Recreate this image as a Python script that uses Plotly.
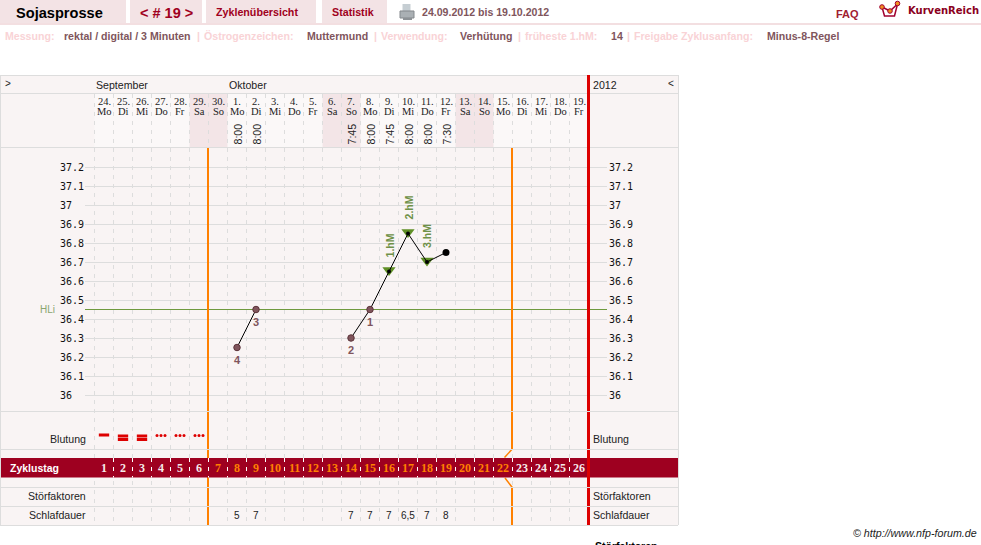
import plotly.graph_objects as go

W, H = 981, 545

# Cycle data
dates = ["24.", "25.", "26.", "27.", "28.", "29.", "30.", "1.", "2.", "3.", "4.", "5.", "6.", "7.",
         "8.", "9.", "10.", "11.", "12.", "13.", "14.", "15.", "16.", "17.", "18.", "19."]
weekdays = ["Mo", "Di", "Mi", "Do", "Fr", "Sa", "So", "Mo", "Di", "Mi", "Do", "Fr", "Sa", "So",
            "Mo", "Di", "Mi", "Do", "Fr", "Sa", "So", "Mo", "Di", "Mi", "Do", "Fr"]
times = [None, None, None, None, None, None, None, "8:00", "8:00", None, None, None, None, "7:45",
         "8:00", "7:45", "8:00", "8:00", "7:30", None, None, None, None, None, None, None]
temperature = [None, None, None, None, None, None, None, 36.25, 36.45, None, None, None, None, 36.30,
               36.45, 36.65, 36.85, 36.70, 36.75, None, None, None, None, None, None, None]
point_marks = [None, None, None, None, None, None, None, "4", "3", None, None, None, None, "2",
               "1", "1.hM", "2.hM", "3.hM", None, None, None, None, None, None, None, None]
bleeding = [1, 2, 2, 3, 3, 3]
sleep = [None, None, None, None, None, None, None, "5", "7", None, None, None, None, "7",
         "7", "7", "6,5", "7", "8", None, None, None, None, None, None, None]
cycle_days = list(range(1, 27))
temp_ticks = [36, 36.1, 36.2, 36.3, 36.4, 36.5, 36.6, 36.7, 36.8, 36.9, 37, 37.1, 37.2]
cover_line = 36.45
weekend_starts = [5, 12, 19]
fertile_first_day = 7
fertile_last_day = 22

DARK = "#222222"
GRID = "#dddddd"
PANEL = "#f9f4f4"
WEEKEND = "#f3e5e7"
TAB = "#f3e3e5"
CRIMSON = "#a00020"
ORANGE = "#ff8000"
RED = "#dd0000"
GREEN = "#5f8f26"
MAUVE = "#80555c"
PINK = "#f9d3d6"
SANS = "Liberation Sans"
NARROW = "Liberation Sans Narrow"

BASELINE_36 = 395.0  # pixel row of 36.0 degrees
PX_PER_DEGREE = 190


def px(x):
    return x / W


def py(y):
    return 1 - y / H


def day_x(pixel):
    return (pixel - 104) / 19


def day_px(day):
    return 104 + 19 * day


def temp_at(pixel):
    return 36 + (BASELINE_36 - pixel) / PX_PER_DEGREE


shapes = []


def rect(x0, y0, x1, y1, fill, layer="below"):
    shapes.append(dict(type="rect", xref="paper", yref="paper", x0=px(x0), x1=px(x1), y0=py(y0), y1=py(y1),
                       fillcolor=fill, line=dict(width=0), layer=layer))


def seg(x0, y0, x1, y1, color, width=1, layer="below"):
    shapes.append(dict(type="line", xref="paper", yref="paper", x0=px(x0), x1=px(x1), y0=py(y0), y1=py(y1),
                       line=dict(color=color, width=width), layer=layer))


def path(points, color, width=1, fill=None, close=False, layer="above"):
    d = "M" + " L".join(f"{px(a):.5f},{py(b):.5f}" for a, b in points) + (" Z" if close else "")
    shapes.append(dict(type="path", xref="paper", yref="paper", path=d, layer=layer,
                       fillcolor=fill or "rgba(0,0,0,0)", line=dict(color=color, width=width)))


def dot(x, y, r, fill, edge, width=1):
    shapes.append(dict(type="circle", xref="paper", yref="paper", x0=px(x - r), x1=px(x + r), y0=py(y + r),
                       y1=py(y - r), fillcolor=fill, line=dict(color=edge, width=width), layer="above"))


# Navigation tabs and the rule beneath them
for x0, x1 in [(0, 126), (130, 202), (206, 316), (322, 387)]:
    rect(x0, 0, x1, 23, TAB)
rect(0, 23, W, 25, "#f3dfe1")

# Printer icon
rect(402.5, 4, 410.5, 11, "#c6ced3", "above")
path([(400, 11), (414, 11), (414, 18), (400, 18)], "#84898d", 1, "#aab0b4", True)
rect(403, 18, 412, 20, "#8d9296", "above")

# Logo
path([(882, 7), (884.5, 16), (894.5, 16), (897.5, 4)], "#a00030", 1.5)
path([(882, 7), (890, 11), (897.5, 4)], "#a00030", 1.5)
dot(882, 7, 2.3, "#f09020", "#a00030")
dot(890, 11, 2.3, "#f09020", "#a00030")
dot(897.5, 3.5, 2.3, "#f09020", "#a00030")

# Chart panel and its header cells
rect(0, 75, 678, 525, PANEL)
seg(0, 75.5, 678, 75.5, GRID)
seg(0.5, 75, 0.5, 525, GRID)
seg(678.5, 75, 678.5, 525, GRID)
seg(0, 525.5, 678, 525.5, GRID)
seg(0, 93.5, 678, 93.5, GRID)
seg(0, 147.5, 678, 147.5, GRID)
rect(94.5, 94, 588, 147, "#fbf8f8")
for first in weekend_starts:
    rect(day_px(first) - 9.5, 94, day_px(first + 2) - 9.5, 147, WEEKEND)

# Fertile window borders, with the kink around the day-number band on the closing one
left_edge = round(day_px(fertile_first_day - 1.5))
right_edge = round(day_px(fertile_last_day - 0.5))
rect(left_edge - 1, 148, left_edge + 1, 525, ORANGE, "above")
rect(right_edge - 1, 148, right_edge + 1, 449, ORANGE, "above")
rect(right_edge - 1, 487, right_edge + 1, 525, ORANGE, "above")
seg(512.3, 449, 504.5, 457.5, ORANGE, 1.5, "above")
seg(505, 478, 512.3, 487.5, ORANGE, 1.5, "above")

# Day-number band and its white separators
rect(1, 458, 678, 477.5, "#9e0020", "above")
for i in range(1, 26):
    shapes.append(dict(type="line", xref="x", yref="y3", x0=i - 0.5, x1=i - 0.5, y0=458, y1=477.5,
                       line=dict(color="#ffffff", width=1, dash="4px,5px"), layer="above"))

# End-of-record marker
rect(587, 75, 590, 525, RED, "above")

# Row separators crossing the vertical markers
for y in [411.5, 449.5, 487.5, 506.5]:
    seg(0, y, 678, y, GRID, 1, "above")

annotations = []


def page_text(x, y, text, size=10.6, color=DARK, bold=False, anchor="left", family=SANS, italic=False):
    shown = f"<b>{text}</b>" if bold else text
    shown = f"<i>{shown}</i>" if italic else shown
    inset = -1 if anchor == "left" else 1
    annotations.append(dict(xref="paper", yref="paper", x=px(x + inset), y=py(y), text=shown, showarrow=False,
                            xanchor=anchor, yanchor="middle", borderpad=0,
                            font=dict(family=family, size=size, color=color)))


def row_text(i, y, text, size=11, color=DARK, bold=False, angle=0, family=SANS):
    shown = f"<b>{text}</b>" if bold else text
    annotations.append(dict(xref="x", yref="y3", x=i, y=y, text=shown, showarrow=False, textangle=angle,
                            xanchor="center", yanchor="middle", borderpad=0,
                            font=dict(family=family, size=size, color=color)))


# Page header
page_text(16, 13, "Sojasprosse", 14.6, "#000000", True)
page_text(140, 13, "&lt; # 19 &gt;", 14.5, CRIMSON, True)
page_text(216, 12.5, "Zyklenübersicht", 10.7, CRIMSON, True)
page_text(332, 12.5, "Statistik", 10.7, CRIMSON, True)
page_text(422, 12.5, "24.09.2012 bis 19.10.2012", 10.6, MAUVE, True)
page_text(836, 14.5, "FAQ", 11, "#a02030", True)
page_text(908, 10.5, "KurvenReich", 10, "#8a0020", True, family="DejaVu Sans")

# Settings line
for x, text, color in [(5, "Messung:", PINK), (64, "rektal / digital / 3 Minuten", MAUVE), (197, "|", PINK),
                       (204, "Östrogenzeichen:", PINK), (307, "Muttermund", MAUVE), (374, "|", PINK),
                       (381, "Verwendung:", PINK), (460, "Verhütung", MAUVE), (518, "|", PINK),
                       (525, "früheste 1.hM:", PINK), (611, "14", MAUVE), (627, "|", PINK),
                       (634, "Freigabe Zyklusanfang:", PINK), (767, "Minus-8-Regel", MAUVE)]:
    page_text(x, 36, text, 10.6, color, True)

# Chart header
page_text(5, 83, "&gt;", 10)
page_text(96, 85, "September")
page_text(229, 85, "Oktober")
page_text(593, 85, "2012")
page_text(668, 83, "&lt;", 10)

# Row titles on both sides
for y, text in [(439, "Blutung"), (496, "Störfaktoren"), (515, "Schlafdauer")]:
    page_text(85.5, y, text, anchor="right")
    page_text(593, y, text)
page_text(10, 468, "Zyklustag", 10.5, "#ffffff", True)
page_text(40, 309, "HLi", 10, "#8aa570")
page_text(595, 545.5, "Störfaktoren", 10.5, "#000000", True)
page_text(853, 533, "© http://www.nfp-forum.de", 10.7, DARK, italic=True)

# Per-day cells
for i, (d, w) in enumerate(zip(dates, weekdays)):
    row_text(i, 101.5, d, 10.5, family=NARROW)
    row_text(i, 111, w, 10.5, family=NARROW)
    if times[i]:
        row_text(i, 134.5, times[i], 10.6, angle=-90)
    if sleep[i]:
        row_text(i, 515, sleep[i], 10)
    in_window = fertile_first_day <= cycle_days[i] <= fertile_last_day
    row_text(i, 468, str(cycle_days[i]), 12, ORANGE if in_window else "#f6eaea", True, family=NARROW)

# Labels attached to the temperature points
for i, mark in enumerate(point_marks):
    if mark is None:
        continue
    if mark.endswith("hM"):
        annotations.append(dict(xref="x", yref="y", x=i, y=temperature[i], yshift=26, text=f"<b>{mark}</b>",
                                showarrow=False, textangle=-90, xanchor="center", yanchor="middle", borderpad=0,
                                font=dict(family=SANS, size=10.6, color="#6f9148")))
    else:
        annotations.append(dict(xref="x", yref="y", x=i, y=temperature[i], yshift=-12, text=f"<b>{mark}</b>",
                                showarrow=False, xanchor="center", yanchor="middle", borderpad=0,
                                font=dict(family=SANS, size=11, color=MAUVE)))

fig = go.Figure()
day_index = list(range(len(dates)))

# Cover line
fig.add_trace(go.Scatter(x=[day_x(85), day_x(607)], y=[cover_line, cover_line], mode="lines",
                         line=dict(color="#6f9a3e", width=1), hoverinfo="skip", xaxis="x", yaxis="y"))

low_x = [i for i, m in enumerate(point_marks) if m and not m.endswith("hM")]
high_x = [i for i, m in enumerate(point_marks) if m and m.endswith("hM")]
last_x = [i for i, t in enumerate(temperature) if t is not None and point_marks[i] is None]

# Triangles sit on their own axis so they can be centred on the point rather than on the symbol's apex
fig.add_trace(go.Scatter(x=high_x, y=[temperature[i] for i in high_x], mode="markers", xaxis="x", yaxis="y4",
                         marker=dict(symbol="triangle-down", size=11.5, color=GREEN, line=dict(width=0)),
                         hoverinfo="skip"))

# Temperature curve and its points
fig.add_trace(go.Scatter(x=day_index, y=temperature, mode="lines", line=dict(color="#000000", width=1),
                         connectgaps=False, hoverinfo="skip", xaxis="x", yaxis="y5"))
fig.add_trace(go.Scatter(x=low_x, y=[temperature[i] for i in low_x], mode="markers", xaxis="x", yaxis="y5",
                         marker=dict(symbol="circle", size=6.5, color=MAUVE, line=dict(color="#5c343a", width=1)),
                         hoverinfo="skip"))
fig.add_trace(go.Scatter(x=high_x, y=[temperature[i] for i in high_x], mode="markers", xaxis="x", yaxis="y5",
                         marker=dict(symbol="circle", size=4, color="#000000"), hoverinfo="skip"))
fig.add_trace(go.Scatter(x=last_x, y=[temperature[i] for i in last_x], mode="markers", xaxis="x", yaxis="y5",
                         marker=dict(symbol="circle", size=7, color="#000000"), hoverinfo="skip"))

# Bleeding: one bar, two bars, or three dots per day depending on strength
bar_x, bar_y, dot_x, dot_y = [], [], [], []
for i, strength in enumerate(bleeding):
    if strength == 1:
        bar_x.append(i)
        bar_y.append(435)
    elif strength == 2:
        bar_x += [i, i]
        bar_y += [436, 439.5]
    else:
        for offset in (-4, 0, 4):
            dot_x.append(i + offset / 19)
            dot_y.append(435.5)
fig.add_trace(go.Scatter(x=bar_x, y=bar_y, mode="markers", xaxis="x", yaxis="y3", hoverinfo="skip",
                         marker=dict(symbol="line-ew", size=7.4, line=dict(color=RED, width=3))))
fig.add_trace(go.Scatter(x=dot_x, y=dot_y, mode="markers", xaxis="x", yaxis="y3", hoverinfo="skip",
                         marker=dict(symbol="circle", size=3, color=RED)))

# Invisible trace keeps the right-hand temperature axis active
fig.add_trace(go.Scatter(x=[0], y=[36], mode="markers", marker=dict(opacity=0), yaxis="y2", hoverinfo="skip"))

y_domain = [py(525), py(94)]
temp_range = [temp_at(525), temp_at(94)]
triangle_lift = 1.3 / PX_PER_DEGREE
tick_text = [f"{t:g}".ljust(4, "\u00a0") for t in temp_ticks]
tick_font = dict(family="DejaVu Sans Mono", size=10, color="#111111")

fig.update_layout(
    width=W, height=H, autosize=False, showlegend=False,
    margin=dict(l=0, r=0, t=0, b=0, pad=0),
    paper_bgcolor="#ffffff", plot_bgcolor="rgba(0,0,0,0)",
    xaxis=dict(domain=[px(85), px(607)], range=[day_x(85), day_x(607)], tickmode="array",
               tickvals=[i - 0.5 for i in range(27)], showticklabels=False, ticks="",
               showgrid=True, gridcolor=GRID, gridwidth=1, griddash="4px,5px", zeroline=False, showline=False,
               fixedrange=True),
    yaxis=dict(domain=y_domain, range=temp_range, tickmode="array", tickvals=temp_ticks, ticktext=tick_text,
               tickfont=tick_font, ticks="", showgrid=True, gridcolor=GRID, gridwidth=1, zeroline=False,
               showline=False, fixedrange=True),
    yaxis2=dict(domain=y_domain, range=temp_range, overlaying="y", side="right", anchor="x", tickmode="array",
                tickvals=temp_ticks, ticktext=tick_text, tickfont=tick_font, ticks="", showgrid=False,
                zeroline=False, showline=False, fixedrange=True, ticklabelstandoff=1),
    yaxis3=dict(domain=y_domain, range=[525, 94], overlaying="y", visible=False, fixedrange=True),
    yaxis4=dict(domain=y_domain, range=[temp_range[0] - triangle_lift, temp_range[1] - triangle_lift],
                overlaying="y", visible=False, fixedrange=True),
    yaxis5=dict(domain=y_domain, range=temp_range, overlaying="y", visible=False, fixedrange=True),
    shapes=shapes, annotations=annotations,
)

fig.write_html("out.html", config=dict(displayModeBar=False))
